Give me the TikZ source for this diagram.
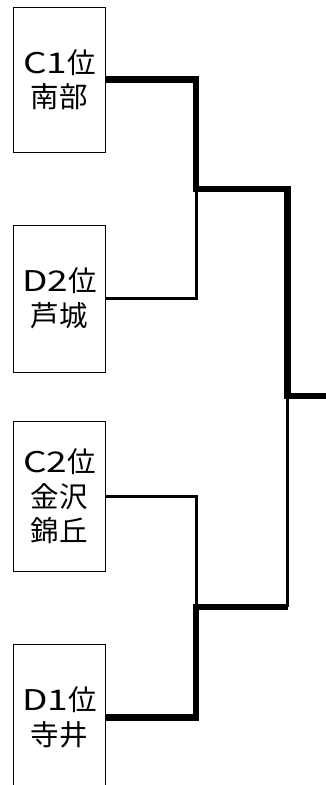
\documentclass[tikz,border=0pt]{standalone}
\usepackage{fontspec}
\newfontfamily\jpfont{Noto Sans CJK JP}
\newfontfamily\jplatin[FakeStretch=1.3]{Noto Sans CJK JP}
\newcommand{\rk}[1]{{\jplatin #1}}
\begin{document}
\begin{tikzpicture}[x=1pt,y=-1pt,
  team/.style={draw=black,line width=0.9pt,rectangle,minimum width=91.8pt,inner sep=0pt,
    align=center,font=\jpfont\fontsize{28.5}{34.5}\selectfont},
  win/.style={line width=6.5pt},
  lose/.style={line width=3pt}]
\useasboundingbox (0,0) rectangle (326,785);
\clip (0,0) rectangle (326,785);
\node[team,minimum height=145pt] (b1) at (59.4,79.5) {\rk{C1}位\\南部};
\node[team,minimum height=147pt] (b2) at (59.4,298.5) {\rk{D2}位\\芦城};
\node[team,minimum height=150pt] (b3) at (59.4,496.5) {\rk{C2}位\\金沢\\錦丘};
\node[team,minimum height=147pt] (b4) at (59.4,717.5) {\rk{D1}位\\寺井};
\coordinate (j1) at (196,189);
\coordinate (j2) at (196,607);
\coordinate (m1) at (287.5,189);
\coordinate (m2) at (287.5,607);
\coordinate (j3) at (287.5,396);
\coordinate (f) at (326,396);
\draw[lose] (b2.east) -| (j1);
\draw[lose] (b3.east) -| (j2);
\draw[lose] (m2) -- (j3);
\draw[win] (b1.east) -| (j1) -- (m1) -- (j3) -- (f);
\draw[win] (b4.east) -| (j2) -- (m2);
\end{tikzpicture}
\end{document}
